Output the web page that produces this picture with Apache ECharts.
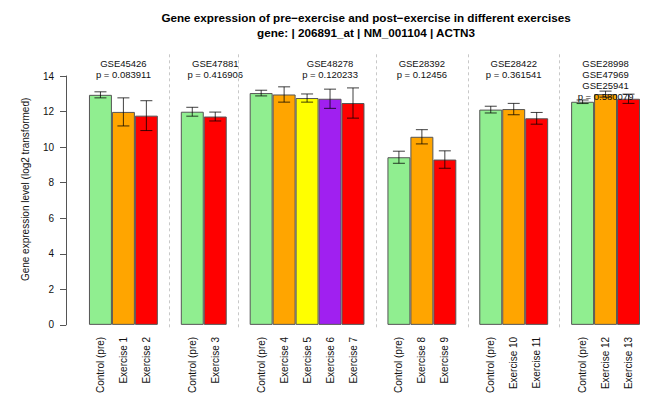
<!DOCTYPE html>
<html>
<head>
<meta charset="utf-8">
<script src="https://cdn.jsdelivr.net/npm/echarts@6/dist/echarts.min.js"></script>
<style>
  html, body { margin: 0; padding: 0; background: #ffffff; }
  #chart { width: 650px; height: 396px; }
</style>
</head>
<body>
<div id="chart"></div>
<script>
// ---- data -------------------------------------------------------------
const titleLines = [
  'Gene expression of pre\u2212exercise and post\u2212exercise in different exercises',
  'gene: | 206891_at | NM_001104 | ACTN3'
];
const yAxisTitle = 'Gene expression level (log2 transformed)';
const yTicks = [0, 2, 4, 6, 8, 10, 12, 14];

const datasetIds = [
  ['GSE45426'],
  ['GSE47881'],
  ['GSE48278'],
  ['GSE28392'],
  ['GSE28422'],
  ['GSE28998', 'GSE47969', 'GSE25941']
];
const pValues = ['0.083911', '0.416906', '0.120233', '0.12456', '0.361541', '0.580079'];

const barLabels = [
  ['Control (pre)', 'Exercise 1', 'Exercise 2'],
  ['Control (pre)', 'Exercise 3'],
  ['Control (pre)', 'Exercise 4', 'Exercise 5', 'Exercise 6', 'Exercise 7'],
  ['Control (pre)', 'Exercise 8', 'Exercise 9'],
  ['Control (pre)', 'Exercise 10', 'Exercise 11'],
  ['Control (pre)', 'Exercise 12', 'Exercise 13']
];
const means = [
  [12.94, 11.98, 11.77],
  [11.99, 11.72],
  [13.04, 12.96, 12.76, 12.72, 12.48],
  [9.43, 10.58, 9.30],
  [12.11, 12.14, 11.62],
  [12.55, 12.98, 12.72]
];
const errors = [
  [0.17, 0.79, 0.84],
  [0.25, 0.25],
  [0.16, 0.43, 0.23, 0.54, 0.85],
  [0.34, 0.40, 0.49],
  [0.19, 0.32, 0.33],
  [0.10, 0.17, 0.26]
];

// ---- layout & style ---------------------------------------------------
const FONT = '"Liberation Sans", Arial, Helvetica, sans-serif';
const palettes = {
  2: ['#90EE90', '#FF0000'],
  3: ['#90EE90', '#FFA500', '#FF0000'],
  5: ['#90EE90', '#FFA500', '#FFFF00', '#A020F0', '#FF0000']
};
// slot (within its group) over which each group's note is centred
const noteOffset = [1, 0.5, 3, 1, 1, 1];

const gridLeft = 66, gridWidth = 574, gridBottom = 68.7;
const barsTop = 76, panelTop = 51.5;
const chartH = 396;
const barsH = chartH - gridBottom - barsTop;
const panelH = chartH - gridBottom - panelTop;
const yMax = yTicks[yTicks.length - 1];
const panelMax = yMax * panelH / barsH;

// ---- slot layout: an empty slot before each group ------------------------
const categories = [];
const barData = [];
const errData = [];
const separators = [];
const notes = [];
barLabels.forEach((labels, g) => {
  if (g > 0) separators.push(categories.length);
  categories.push('');
  barData.push(null);
  const start = categories.length;
  const colors = palettes[labels.length];
  labels.forEach((lab, i) => {
    const idx = categories.length;
    categories.push(lab);
    barData.push({ value: means[g][i], itemStyle: { color: colors[i] } });
    errData.push([idx, means[g][i] - errors[g][i], means[g][i] + errors[g][i]]);
  });
  notes.push({
    value: [start + noteOffset[g], panelMax],
    text: datasetIds[g].join('\n') + '\np = ' + pValues[g]
  });
});

const chart = echarts.init(document.getElementById('chart'), null, { renderer: 'svg' });

chart.setOption({
  animation: false,
  backgroundColor: '#ffffff',
  title: {
    text: titleLines.join('\n'),
    left: 366,
    top: 10,
    textAlign: 'center',
    padding: 0,
    textStyle: {
      fontFamily: FONT, fontSize: 11.7, fontWeight: 'bold',
      color: '#000000', lineHeight: 15
    }
  },
  grid: [
    { left: gridLeft, width: gridWidth, top: barsTop, bottom: gridBottom },
    { left: gridLeft, width: gridWidth, top: panelTop, bottom: gridBottom }
  ],
  xAxis: [
    {
      gridIndex: 0, type: 'category', data: categories, boundaryGap: true,
      axisLine: { show: false }, axisTick: { show: false }, splitLine: { show: false },
      axisLabel: {
        interval: 0, rotate: 90, margin: 12,
        fontFamily: FONT, fontSize: 10, color: '#111111'
      }
    },
    {
      gridIndex: 1, type: 'category', data: categories, boundaryGap: true, show: false
    }
  ],
  yAxis: [
    {
      gridIndex: 0, type: 'value', min: 0, max: yMax, interval: 2,
      axisLine: { show: true, lineStyle: { color: '#555555', width: 1 } },
      axisTick: { show: true, length: 6, lineStyle: { color: '#555555', width: 1 } },
      axisLabel: {
        margin: 12, fontFamily: FONT, fontSize: 10, color: '#111111',
        customValues: yTicks
      },
      splitLine: { show: false }
    },
    {
      gridIndex: 1, type: 'value', min: 0, max: panelMax,
      axisLine: { show: false }, axisTick: { show: false },
      axisLabel: { show: false }, splitLine: { show: false },
      name: yAxisTitle, nameLocation: 'middle', nameRotate: 90, nameGap: 36,
      nameTextStyle: { fontFamily: FONT, fontSize: 10, color: '#111111' }
    }
  ],
  series: [
    {
      type: 'bar',
      xAxisIndex: 0, yAxisIndex: 0,
      data: barData,
      barWidth: '100%',
      barCategoryGap: 0,
      itemStyle: { borderColor: '#555555', borderWidth: 1 },
      z: 2
    },
    {
      type: 'custom',
      xAxisIndex: 0, yAxisIndex: 0,
      data: errData,
      encode: { x: 0, y: [1, 2] },
      z: 3,
      renderItem: function (params, api) {
        const x = api.value(0);
        const lo = api.coord([x, api.value(1)]);
        const hi = api.coord([x, api.value(2)]);
        const cap = 6;
        const style = { stroke: 'rgba(0,0,0,0.75)', lineWidth: 1 };
        return {
          type: 'group',
          children: [
            { type: 'line', shape: { x1: lo[0], y1: lo[1], x2: hi[0], y2: hi[1] }, style: style },
            { type: 'line', shape: { x1: hi[0] - cap, y1: hi[1], x2: hi[0] + cap, y2: hi[1] }, style: style },
            { type: 'line', shape: { x1: lo[0] - cap, y1: lo[1], x2: lo[0] + cap, y2: lo[1] }, style: style }
          ]
        };
      }
    },
    {
      type: 'scatter',
      xAxisIndex: 1, yAxisIndex: 1,
      symbolSize: 0,
      clip: false,
      z: 4,
      itemStyle: { opacity: 1 },
      data: notes.map(n => ({ value: n.value, text: n.text })),
      label: {
        show: true, position: 'bottom', distance: 6,
        formatter: p => p.data.text,
        fontFamily: FONT, fontSize: 9.5, lineHeight: 11,
        color: '#111111', align: 'center'
      },
      markLine: {
        silent: true,
        symbol: 'none',
        label: { show: false },
        lineStyle: { color: '#c8c8c8', type: [3, 3], width: 1 },
        data: separators.map(i => ({ xAxis: i }))
      }
    }
  ]
});
</script>
</body>
</html>
